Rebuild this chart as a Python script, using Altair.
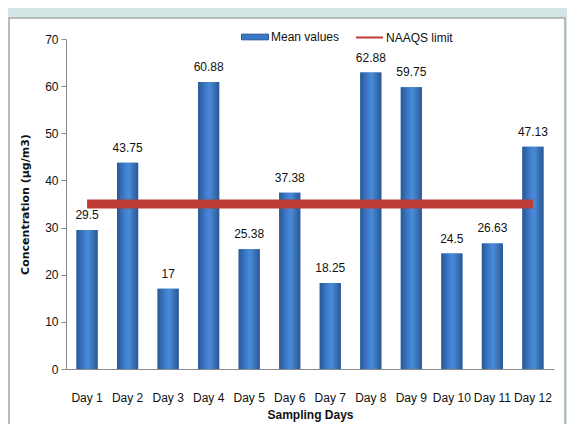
import altair as alt
import pandas as pd

days = ["Day 1", "Day 2", "Day 3", "Day 4", "Day 5", "Day 6",
        "Day 7", "Day 8", "Day 9", "Day 10", "Day 11", "Day 12"]
mean_values = [29.5, 43.75, 17, 60.88, 25.38, 37.38, 18.25, 62.88, 59.75, 24.5, 26.63, 47.13]
value_labels = ["29.5", "43.75", "17", "60.88", "25.38", "37.38", "18.25",
                "62.88", "59.75", "24.5", "26.63", "47.13"]
naaqs_limit = 35
series_names = ["Mean values", "NAAQS limit"]
y_ticks = [0, 10, 20, 30, 40, 50, 60, 70]

FONT = "Liberation Sans Narrow, Arial Narrow, Liberation Sans, sans-serif"
BLUE = "#3a72bd"
RED = "#be3b36"

bars_df = pd.DataFrame({"day": days, "value": mean_values, "label": value_labels,
                        "series": series_names[0]})
limit_df = pd.DataFrame({"start": [days[0]], "end": [days[-1]], "value": [naaqs_limit],
                         "series": [series_names[1]]})

x_scale = alt.Scale(domain=days, paddingInner=0.48, paddingOuter=0.26)
x_axis = alt.Axis(labelAngle=0, ticks=False, tickSize=0, labelPadding=23, zindex=2,
                  labelFont=FONT, labelFontSize=12, labelColor="#111",
                  titleFont=FONT, titleFontSize=12, titleFontWeight="bold",
                  titleColor="#111", titlePadding=6,
                  domainColor="#8a8a8a")
x_enc = alt.X("day:N", scale=x_scale, title="Sampling Days", axis=x_axis)
y_enc = alt.Y("value:Q", title="Concentration (µg/m3)",
              scale=alt.Scale(domain=[0, 70], nice=False),
              axis=alt.Axis(values=y_ticks, grid=False, tickSize=5, tickColor="#8a8a8a",
                            domainColor="#8a8a8a", labelPadding=3, zindex=2,
                            labelFont=FONT, labelFontSize=12, labelColor="#111",
                            titleFont="DejaVu Sans", titleFontSize=11, titleFontWeight="bold",
                            titleColor="#111", titlePadding=14))

panel = alt.Chart(alt.Data(values=[{"p": 1}])).mark_rect(
    fill="white", stroke="#a8a8a8", strokeWidth=1.5
).encode(x=alt.value(-57), x2=alt.value(499), y=alt.value(-21), y2=alt.value(400))

bars_base = alt.Chart(bars_df).mark_bar().encode(
    x=x_enc, y=y_enc,
    color=alt.Color("series:N",
                    scale=alt.Scale(domain=[series_names[0]], range=["#3a78c8"]),
                    legend=alt.Legend(title=None, orient="none",
                                      legendX=175, legendY=-16,
                                      symbolType="M-1,-0.21H1V0.21H-1Z",
                                      symbolSize=729, symbolStrokeWidth=1,
                                      symbolStrokeColor="#2a5794",
                                      labelFont=FONT, labelFontSize=12, labelColor="#111",
                                      labelOffset=2))
)

grad = alt.Gradient(
    gradient="linear",
    stops=[alt.GradientStop(color="#2a5794", offset=0),
           alt.GradientStop(color="#3d7ccb", offset=0.35),
           alt.GradientStop(color="#4a8bd8", offset=0.55),
           alt.GradientStop(color="#2a5794", offset=1)],
    x1=0, x2=1, y1=0, y2=0)

bars_grad = alt.Chart(bars_df).mark_bar(color=grad).encode(x=x_enc, y=y_enc)

rule = alt.Chart(limit_df).mark_rule(strokeWidth=9).encode(
    x=alt.X("start:N", scale=x_scale, title="Sampling Days", axis=x_axis),
    x2="end:N", y=y_enc,
    stroke=alt.Stroke("series:N",
                      scale=alt.Scale(domain=[series_names[1]], range=[RED]),
                      legend=alt.Legend(title=None, orient="none",
                                        legendX=289, legendY=-16,
                                        symbolType="stroke", symbolSize=729,
                                        symbolStrokeWidth=2,
                                        labelFont=FONT, labelFontSize=12, labelColor="#111",
                                        labelOffset=2)))

text = alt.Chart(bars_df).mark_text(font=FONT, fontSize=12, color="#111",
                                    baseline="middle", dy=-15).encode(
    x=x_enc, y=y_enc, text="label:N")

chart = alt.layer(panel, bars_base, bars_grad, rule, text).properties(
    width=488, height=330,
    autosize=alt.AutoSizeParams(type="none"),
    padding={"left": 58, "top": 31, "right": 13, "bottom": 55},
    background="#d2e4e4",
).configure_view(stroke=None)

chart.save("out.html", embed_options={"renderer": "svg", "actions": False})
